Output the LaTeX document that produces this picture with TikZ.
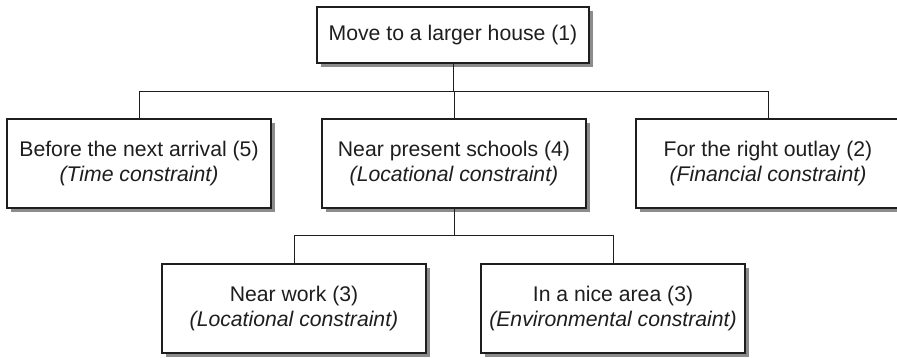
\documentclass[tikz,border=0pt]{standalone}
\usepackage{fontspec}
\setmainfont{Liberation Sans}
\usetikzlibrary{shadows}
\definecolor{ink}{HTML}{1E1E1E}
\definecolor{shade}{HTML}{8C8C8C}
\begin{document}
\begin{tikzpicture}[x=1pt,y=-1pt,
  box/.style={draw=ink, line width=1.2pt, fill=white, text=ink, align=center,
    inner sep=0pt, minimum width=264pt, minimum height=89pt,
    font=\fontsize{21.2}{24.5}\selectfont,
    drop shadow={shadow xshift=4pt, shadow yshift=-4pt, fill=shade, opacity=1}},
  link/.style={draw=ink, line width=0.9pt}]
\useasboundingbox (0,0) rectangle (897,357);
\clip (0,0) rectangle (897,357);
\node[box, minimum width=272pt, minimum height=56pt] (top) at (453,35) {Move to a larger house (1)};
\node[box] (left) at (139,163.5) {Before the next arrival (5)\\\textit{(Time constraint)}};
\node[box] (mid) at (454,163.5) {Near present schools (4)\\\textit{(Locational constraint)}};
\node[box] (right) at (768,163.5) {For the right outlay (2)\\\textit{(Financial constraint)}};
\node[box] (bl) at (294,308.5) {Near work (3)\\\textit{(Locational constraint)}};
\node[box] (br) at (613,308.5) {In a nice area (3)\\\textit{(Environmental constraint)}};
\coordinate (j1) at (454,91);
\coordinate (j2) at (454,235);
\draw[link] (top.south) -- (top.south |- j1);
\draw[link] (left.north) -- (left.north |- j1) -- (right.north |- j1) -- (right.north);
\draw[link] (mid.north) -- (mid.north |- j1);
\draw[link] (mid.south) -- (mid.south |- j2);
\draw[link] (bl.north) -- (bl.north |- j2) -- (br.north |- j2) -- (br.north);
\end{tikzpicture}
\end{document}
